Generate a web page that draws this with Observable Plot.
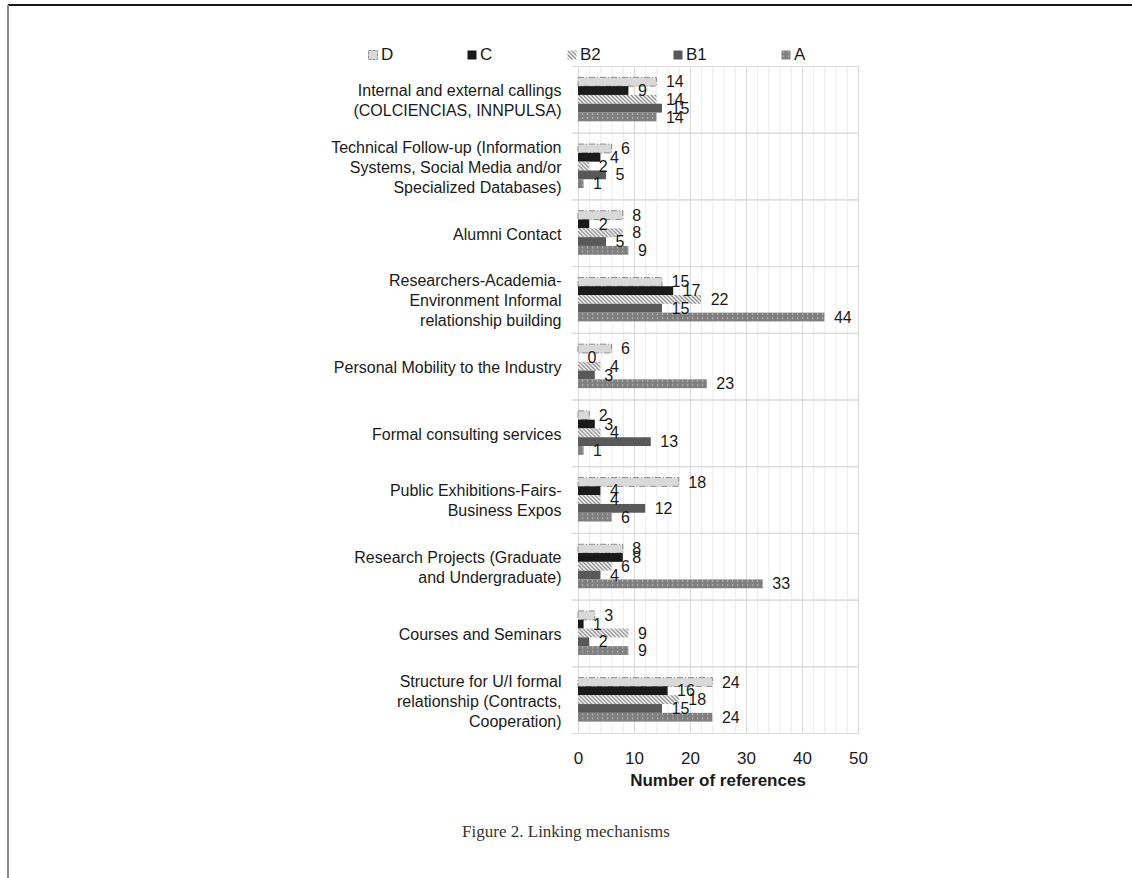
<!DOCTYPE html>
<html><head><meta charset="utf-8">
<script src="https://cdn.jsdelivr.net/npm/d3@7"></script>
<script src="https://cdn.jsdelivr.net/npm/@observablehq/plot@0.6"></script>
<style>
body{margin:0;background:#fff;font-family:"Liberation Sans",Arial,sans-serif;}
#wrap{position:relative;width:1132px;height:878px;overflow:hidden;background:#fff;}
#topline{position:absolute;left:8px;top:4px;width:1124px;height:2px;background:#1a1a1a;}
#leftline{position:absolute;left:7px;top:5px;width:2px;height:873px;background:#8a8a8a;}
#chart{position:absolute;left:0;top:0;}
.leg{position:absolute;top:45px;height:20px;display:flex;align-items:center;font-size:17px;color:#1a1a1a;}
.leg svg{margin-right:3px;}
#xtitle{position:absolute;left:578px;width:280px;top:771px;text-align:center;font-weight:bold;font-size:17px;color:#1a1a1a;}
#caption{position:absolute;left:0;width:1132px;top:822px;text-align:center;font-family:"Liberation Serif","DejaVu Serif",serif;font-size:17px;color:#333;}
</style>
</head><body>
<svg width="0" height="0" style="position:absolute">
<defs>
<pattern id="pB2" width="4" height="4" patternUnits="userSpaceOnUse">
<rect width="4" height="4" fill="#fff"/>
<path d="M-1,-1L5,5M-1,3L1,5M3,-1L5,1" stroke="#8c8c8c" stroke-width="1.4"/>
</pattern>
<pattern id="pA" width="5" height="4" patternUnits="userSpaceOnUse">
<rect width="5" height="4" fill="#7f7f7f"/>
<rect x="2" y="1.5" width="1.2" height="1.2" fill="#d0d0d0"/>
</pattern>
</defs>
</svg>
<div id="wrap">
<div id="topline"></div><div id="leftline"></div>
<div id="legend"></div>
<div id="chart"></div>
<div id="xtitle">Number of references</div>
<div id="caption">Figure 2. Linking mechanisms</div>
</div>
<script>
const categories = [
  "Internal and external callings\n(COLCIENCIAS, INNPULSA)",
  "Technical Follow-up (Information\nSystems, Social Media and/or\nSpecialized Databases)",
  "Alumni Contact",
  "Researchers-Academia-\nEnvironment Informal\nrelationship building",
  "Personal Mobility to the Industry",
  "Formal consulting services",
  "Public Exhibitions-Fairs-\nBusiness Expos",
  "Research Projects (Graduate\nand Undergraduate)",
  "Courses and Seminars",
  "Structure for U/I formal\nrelationship (Contracts,\nCooperation)"
];
const series = ["D", "C", "B2", "B1", "A"];
const valuesD  = [14, 6, 8, 15, 6, 2, 18, 8, 3, 24];
const valuesC  = [9, 4, 2, 17, 0, 3, 4, 8, 1, 16];
const valuesB2 = [14, 2, 8, 22, 4, 4, 4, 6, 9, 18];
const valuesB1 = [15, 5, 5, 15, 3, 13, 12, 4, 2, 15];
const valuesA  = [14, 1, 9, 44, 23, 1, 6, 33, 9, 24];
const xTicks = [0, 10, 20, 30, 40, 50];

const seriesValues = {D: valuesD, C: valuesC, B2: valuesB2, B1: valuesB1, A: valuesA};
const styles = {
  D: {fill: "#d9d9d9", stroke: "#8c8c8c", strokeDasharray: "6,2,1,2", strokeWidth: 1},
  C: {fill: "#1a1a1a"},
  B2: {fill: "url(#pB2)"},
  B1: {fill: "#595959"},
  A: {fill: "url(#pA)"}
};
const data = categories.flatMap((c, i) => series.map(s => ({category: c, series: s, value: seriesValues[s][i]})));

const chart = Plot.plot({
  width: 1132, height: 878,
  marginLeft: 578, marginRight: 274, marginTop: 66, marginBottom: 145,
  style: {fontFamily: "'Liberation Sans', Arial, sans-serif", fontSize: "17px", color: "#1a1a1a", background: "transparent"},
  x: {domain: [0, 50], ticks: xTicks, tickSize: 0, tickPadding: 18, label: null},
  y: {domain: series, paddingInner: 0, paddingOuter: 1.29, round: false, axis: null},
  fy: {domain: categories, padding: 0, round: false, axis: null},
  marks: [
    Plot.ruleX(d3.range(0, 51, 2).filter(v => v % 10 !== 0), {stroke: "#ececec"}),
    Plot.ruleX(xTicks, {stroke: "#d9d9d9"}),
    Plot.frame({anchor: "top", stroke: "#d9d9d9", insetLeft: -6}),
    Plot.frame({anchor: "bottom", stroke: "#d9d9d9", insetLeft: -6}),
    ...series.map(s => Plot.barX(data.filter(d => d.series === s), {x: "value", y: "series", fy: "category", ...styles[s]})),
    Plot.text(data, {x: "value", y: "series", fy: "category", text: d => String(d.value), textAnchor: "start", dx: 9, fontSize: 16, fill: "#1a1a1a"}),
    Plot.text(categories, {fy: d => d, frameAnchor: "left", text: d => d, textAnchor: "end", dx: -17, lineHeight: 1.25, fontSize: 16, fill: "#1a1a1a"})
  ]
});
document.getElementById("chart").appendChild(chart);

const legendX = {D: 368, C: 467, B2: 567, B1: 673, A: 781};
const leg = document.getElementById("legend");
series.forEach(s => {
  const st = styles[s];
  const div = document.createElement("div");
  div.className = "leg";
  div.style.left = legendX[s] + "px";
  div.innerHTML = `<svg width="10" height="10"><rect x="0.5" y="0.5" width="9" height="9" fill="${st.fill}" ${st.stroke ? `stroke="${st.stroke}" stroke-dasharray="3,1"` : ""}/></svg><span>${s}</span>`;
  leg.appendChild(div);
});
</script>
</body></html>
